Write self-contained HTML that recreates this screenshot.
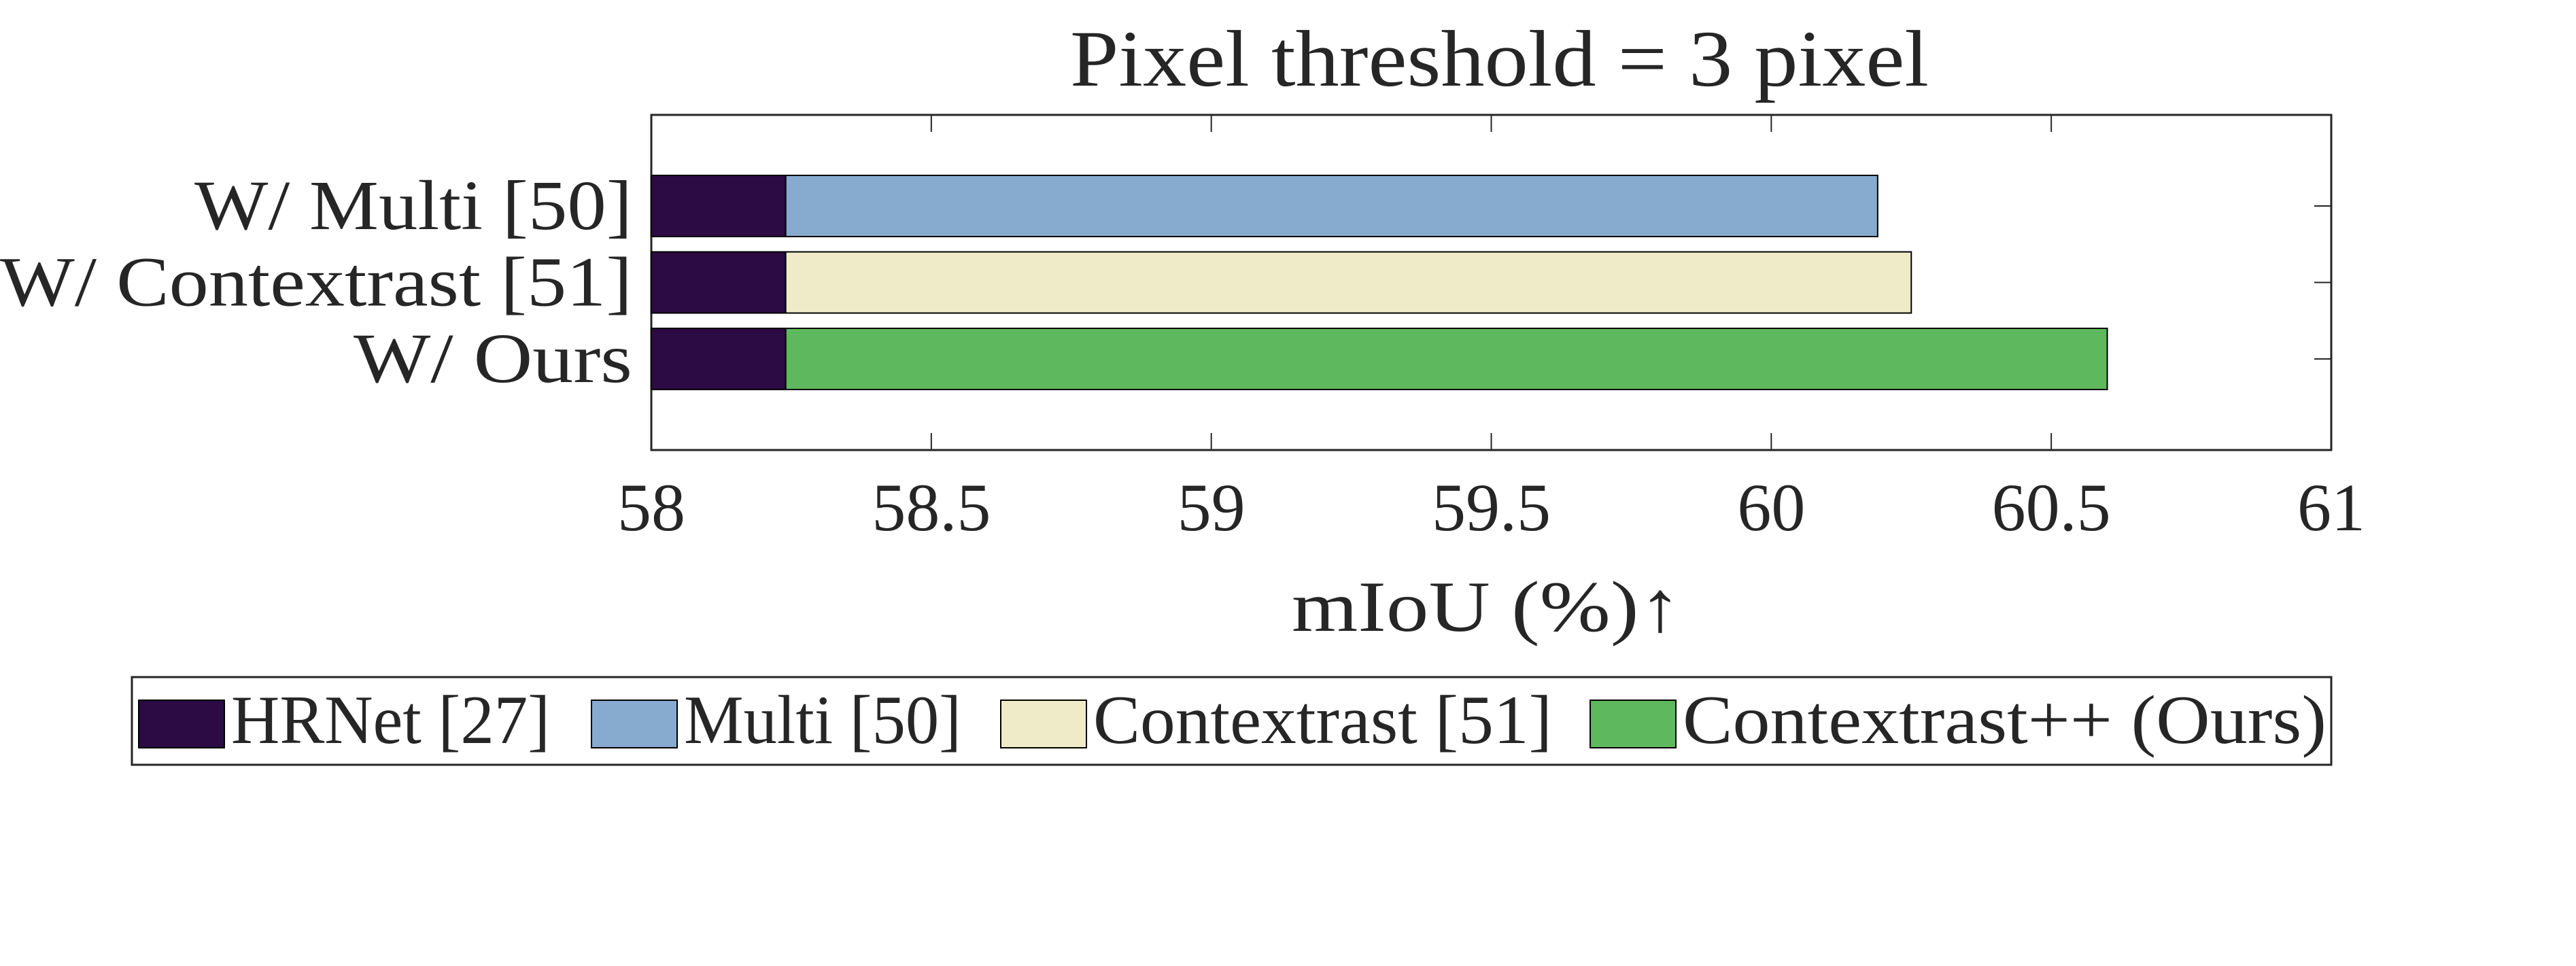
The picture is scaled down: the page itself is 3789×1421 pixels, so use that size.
<!DOCTYPE html>
<html><head><meta charset="utf-8"><style>
html,body{margin:0;padding:0;background:#fff;}
svg{display:block;}
text{font-family:"Liberation Serif",serif;fill:#262626;}
</style></head><body>
<svg id="chart" width="3789" height="1421" viewBox="0 0 3789 1421">
<text x="1574" y="126" font-size="118" textLength="1263" lengthAdjust="spacingAndGlyphs" fill="#000">Pixel threshold = 3 pixel</text>
<g id="plot"></g>
<text x="1900" y="928" font-size="106" textLength="573" lengthAdjust="spacingAndGlyphs">mIoU (%)↑</text>
<g id="legend"></g>
</svg>
<script>
const categories = ["W/ Multi [50]", "W/ Contextrast [51]", "W/ Ours"];
const baseValues = [58.24, 58.24, 58.24];
const totalValues = [60.19, 60.25, 60.60];
const xTicks = [58, 58.5, 59, 59.5, 60, 60.5, 61];
const xTickLabels = ["58", "58.5", "59", "59.5", "60", "60.5", "61"];
const seriesColors = ["#87abcf", "#efebc8", "#5eb85d"];
const legendLabels = ["HRNet [27]", "Multi [50]", "Contextrast [51]", "Contextrast++ (Ours)"];
const legendColors = ["#2c0a43", "#87abcf", "#efebc8", "#5eb85d"];

const NS = "http://www.w3.org/2000/svg";
const L = 958, R = 3429, T = 169, B = 662;
const xMin = 58, xMax = 61;
const X = v => L + (v - xMin) / (xMax - xMin) * (R - L);
const Y = i => 303 + i * 112.5;
const barH = 90;
function mk(tag, attrs, parent) {
  const e = document.createElementNS(NS, tag);
  for (const k in attrs) e.setAttribute(k, attrs[k]);
  parent.appendChild(e);
  return e;
}
const plot = document.getElementById("plot");
const frame = mk("rect", {x: L, y: T, width: R - L, height: B - T, fill: "#fff", stroke: "#262626", "stroke-width": 3}, plot);


xTicks.forEach((t, i) => {
  const x = X(t);
  const tk = mk("path", {d: `M${x},${B}v-25M${x},${T}v25`, stroke: "#262626", "stroke-width": 2}, plot);
  
  
  const lb = mk("text", {x: x, y: 780, "font-size": 100, "text-anchor": "middle"}, plot);
  lb.textContent = xTickLabels[i];
  
  
});
const yLabelWidths = [644, 930, 410];
categories.forEach((c, i) => {
  const yc = Y(i);
  const b1 = mk("rect", {x: X(xMin), y: yc - barH / 2, width: X(baseValues[i]) - X(xMin), height: barH, fill: "#2c0a43", stroke: "#000", "stroke-width": 2}, plot);
  
  
  const b2 = mk("rect", {x: X(baseValues[i]), y: yc - barH / 2, width: X(totalValues[i]) - X(baseValues[i]), height: barH, fill: seriesColors[i], stroke: "#000", "stroke-width": 2}, plot);
  
  
  const tk = mk("path", {d: `M${R},${yc}h-25`, stroke: "#262626", "stroke-width": 2}, plot);
  
  
  const lb = mk("text", {x: 930 - yLabelWidths[i], y: yc + 34, "font-size": 104, textLength: yLabelWidths[i], lengthAdjust: "spacingAndGlyphs"}, plot);
  lb.textContent = c;
  
  
});
const lg = document.getElementById("legend");
const lbox = mk("rect", {x: 194, y: 996, width: 3235, height: 129, fill: "#fff", stroke: "#262626", "stroke-width": 3}, lg);


const patchX = [204, 870, 1472, 2339];
const legendTextW = [469, 408, 675, 947];
legendLabels.forEach((t, i) => {
  const p = mk("rect", {x: patchX[i], y: 1030, width: 126, height: 70, fill: legendColors[i], stroke: "#000", "stroke-width": 2}, lg);
  
  
  const tx = mk("text", {x: patchX[i] + 136, y: 1093, "font-size": 102, fill: "#000", textLength: legendTextW[i], lengthAdjust: "spacingAndGlyphs"}, lg);
  tx.textContent = t;
  
  
});
</script>
</body></html>
